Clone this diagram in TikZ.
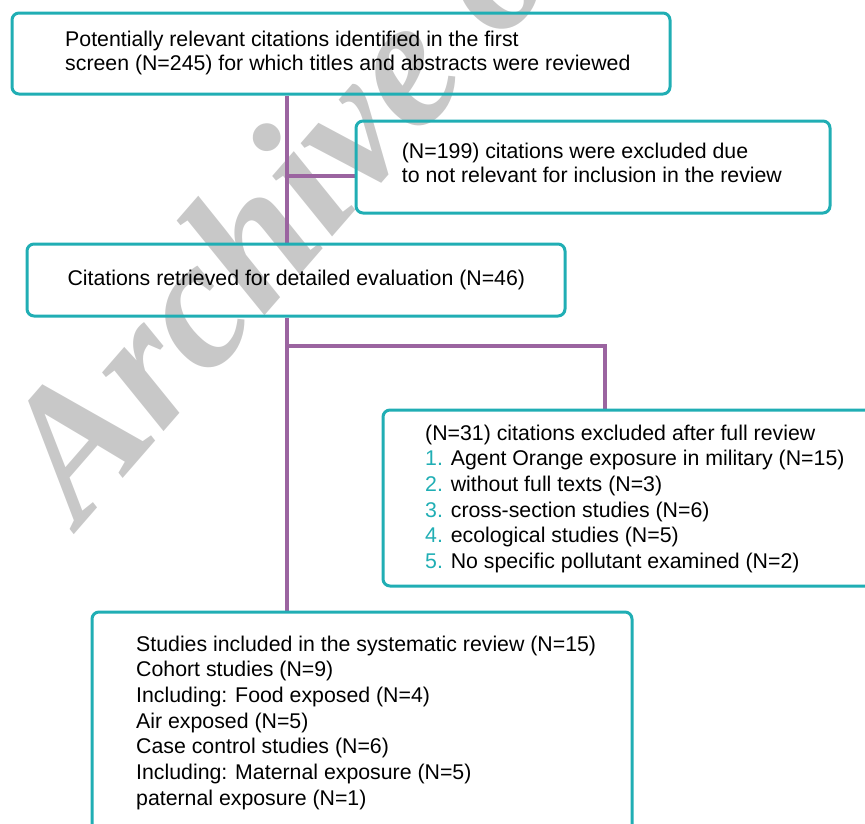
\documentclass[tikz,border=0pt]{standalone}
\usepackage{fontspec}
\setmainfont{Liberation Sans}
\newfontfamily\wmfont{Liberation Serif}
\definecolor{tealc}{RGB}{32,174,180}
\definecolor{purp}{RGB}{155,100,160}
\definecolor{wmgray}{RGB}{200,200,200}
\pgfdeclarelayer{wmlayer}
\pgfdeclarelayer{linklayer}
\pgfsetlayers{wmlayer,linklayer,main}
\begin{document}
\begin{tikzpicture}[x=1pt,y=-1pt,
  box/.style={draw=tealc, line width=3pt, rounded corners=7pt, inner sep=0pt},
  link/.style={draw=purp, line width=3.5pt},
  txt/.style={anchor=base west, inner sep=0pt, font=\fontsize{21.3}{25.7}\selectfont},
  num/.style={text=tealc}]
\useasboundingbox (0,0) rectangle (865,823);
\clip (0,0) rectangle (865,823);
\begin{pgfonlayer}{wmlayer}
\node[anchor=base west, rotate=49, text=wmgray, inner sep=0pt,
  font=\wmfont\bfseries\itshape\fontsize{185}{185}\selectfont] (wm) at (80,528) {Archive of SID};
\end{pgfonlayer}
% boxes
\node[box, minimum width=658pt, minimum height=81pt] (b1) at (341,53.5) {};
\node[box, minimum width=474pt, minimum height=92pt] (b2) at (593,167) {};
\node[box, minimum width=538pt, minimum height=72pt] (b3) at (296,280) {};
\node[box, minimum width=497pt, minimum height=176pt] (b4) at (631.5,498) {};
\node[box, minimum width=540pt, minimum height=228pt] (b5) at (362,726) {};
% texts
\node[txt] (t1) at (65,46.7) {\fontsize{21.3}{24}\selectfont\begin{tabular}[t]{@{}l@{}}Potentially relevant citations identified in the first\\ screen (N=245) for which titles and abstracts were reviewed\end{tabular}};
\node[txt] (t2) at (401.7,158.3) {\fontsize{21.3}{24}\selectfont\begin{tabular}[t]{@{}l@{}}(N=199) citations were excluded due\\ to not relevant for inclusion in the review\end{tabular}};
\node[txt] (t3) at (67.3,285.7) {Citations retrieved for detailed evaluation (N=46)};
\node[txt] (t4) at (425,440) {\begin{tabular}[t]{@{}l@{}}(N=31) citations excluded after full review\\
\textcolor{tealc}{1.} Agent Orange exposure in military (N=15)\\
\textcolor{tealc}{2.} without full texts (N=3)\\
\textcolor{tealc}{3.} cross-section studies (N=6)\\
\textcolor{tealc}{4.} ecological studies (N=5)\\
\textcolor{tealc}{5.} No specific pollutant examined (N=2)\end{tabular}};
\node[txt] (t5) at (136,651) {\begin{tabular}[t]{@{}l@{}}Studies included in the systematic review (N=15)\\
Cohort studies (N=9)\\
Including: Food exposed (N=4)\\
Air exposed (N=5)\\
Case control studies (N=6)\\
Including: Maternal exposure (N=5)\\
paternal exposure (N=1)\end{tabular}};
% connectors
\coordinate (j1) at (287,176);
\coordinate (j2) at (287,346);
\coordinate (j3) at (605,346);
\begin{pgfonlayer}{linklayer}
\draw[link] (b1.south -| j1) -- (b3.north -| j1);
\draw[link] (j1) -- (j1 -| b2.west);
\draw[link] (b3.south -| j2) -- (b5.north -| j2);
\draw[link] (j2) -- (j3) -- (b4.north -| j3);
\end{pgfonlayer}
\end{tikzpicture}
\end{document}
